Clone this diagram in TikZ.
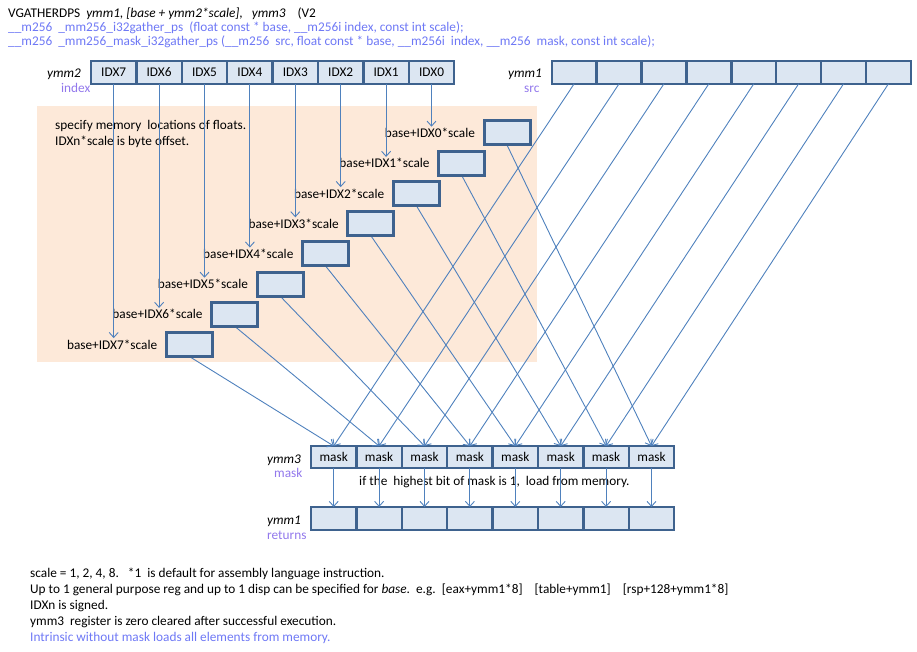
\documentclass[tikz,border=0pt]{standalone}
\usepackage{fontspec}
\setmainfont{Carlito}
\usetikzlibrary{arrows.meta,positioning}
\definecolor{boxfill}{RGB}{220,230,242}
\definecolor{boxdraw}{RGB}{62,98,142}
\definecolor{linecol}{RGB}{79,129,189}
\definecolor{peach}{RGB}{253,233,217}
\definecolor{lblpurple}{RGB}{146,120,236}
\definecolor{hdrblue}{RGB}{110,120,245}
\begin{document}
\begin{tikzpicture}[x=1pt,y=-1pt,
  font=\fontsize{13.3}{16}\selectfont,
  regcell/.style={draw=boxdraw, fill=boxfill, line width=2.4pt, minimum width=45.4pt, minimum height=23pt, inner sep=0pt, outer sep=0pt},
  membox/.style={draw=boxdraw, fill=boxfill, line width=3pt, minimum width=46pt, minimum height=24pt, inner sep=0pt, outer sep=0pt},
  memlab/.style={inner sep=1.5pt, outer sep=0pt},
  conn/.style={draw=linecol, line width=0.9pt, -{Straight Barb[length=5pt,width=9pt]}},
  regname/.style={anchor=base west, inner sep=0pt, font=\fontsize{13.3}{16}\selectfont\itshape},
  regrole/.style={anchor=base west, inner sep=0pt, text=lblpurple},
  txt/.style={anchor=base west, inner sep=0pt}
]
\useasboundingbox (0,0) rectangle (917,652);

% header
\node[txt] (h1) at (8,17.5) {VGATHERDPS\ \ \textit{ymm1,\ [base + ymm2*scale],}\ \ \ \textit{ymm3}\ \ \ \ (V2};
\node[txt, text=hdrblue] (h2) at (8,31.5) {\_\_m256\ \ \_mm256\_i32gather\_ps\ \ (float const * base, \_\_m256i index, const int scale);};
\node[txt, text=hdrblue] (h3) at (8,45.5) {\_\_m256\ \ \_mm256\_mask\_i32gather\_ps (\_\_m256\ \ src, float const * base, \_\_m256i\ \ index, \_\_m256\ \ mask, const int scale);};

% peach area
\fill[peach] (37,106) rectangle (537,362);
\node[txt] (sp1) at (55,129.5) {specify memory\ \ locations of floats.};
\node[txt] (sp2) at (55,146) {IDXn*scale is byte offset.};

% registers
\foreach \j [evaluate=\j as \i using {int(7-\j)}] in {0,...,7}{
  \node[regcell] (idx\i) at ({91+45.4*(\j+0.5)},72.5) {IDX\i};
  \node[regcell, minimum width=44.9pt] (src\i) at ({551.7+44.9*(\j+0.5)},72.3) {};
  \node[regcell, minimum height=22pt] (mask\i) at ({311+45.4*(\j+0.5)},457) {mask};
  \node[regcell] (ret\i) at ({311+45.4*(\j+0.5)},518.5) {};
}
\node[regname] (n2) at (47,78) {ymm2};
\node[regrole] (r2) at (61,93) {index};
\node[regname] (n1) at (508,78) {ymm1};
\node[regrole] (r1) at (524,93) {src};
\node[regname] (n3) at (267,463) {ymm3};
\node[regrole] (r3) at (274,477) {mask};
\node[regname] (n4) at (267,524) {ymm1};
\node[regrole] (r4) at (267,539) {returns};

\node[txt] (cond) at (359,485.5) {if the\ \ highest bit of mask is 1,\ \ load from memory.};

% memory boxes and labels
\foreach \i in {0,...,7}{
  \node[membox] (mem\i) at ({507-45.4*\i},{133+30.2*\i}) {};
  \node[memlab, left=7.5pt of mem\i] (lab\i) {base+IDX\i*scale};
}

% connectors
\foreach \i in {0,...,7}{
  \draw[conn] (idx\i.south) -- (idx\i.south |- lab\i.north);
  \draw[conn] (mem\i.south) -- (mask\i.north);
  \draw[conn] (src\i.south) -- (mask\i.north);
  \draw[conn] (mask\i.south) -- (ret\i.north);
}
% redraw boxes on top
\foreach \i in {0,...,7}{
  \node[membox] at (mem\i) {};
}

% bottom notes
\node[txt] (b1) at (30,577) {scale = 1, 2, 4, 8.\ \ \ *1\ \ is default for assembly language instruction.};
\node[txt] (b2) at (30,593) {Up to 1 general purpose reg and up to 1 disp can be specified for \textit{base}.\ \ e.g.\ \ [eax+ymm1*8]\ \ \ \ [table+ymm1]\ \ \ \ [rsp+128+ymm1*8]};
\node[txt] (b3) at (30,609) {IDXn is signed.};
\node[txt] (b4) at (30,625) {ymm3\ \ register is zero cleared after successful execution.};
\node[txt, text=hdrblue] (b5) at (30,641) {Intrinsic without mask loads all elements from memory.};
\end{tikzpicture}
\end{document}
